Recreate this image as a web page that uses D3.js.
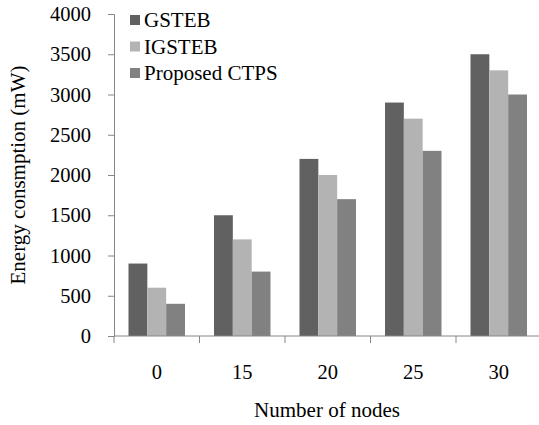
<!DOCTYPE html>
<html><head><meta charset="utf-8">
<script src="https://cdn.jsdelivr.net/npm/d3@7"></script>
<style>body{margin:0;background:#fff}svg{display:block}text{font-family:"Liberation Serif","Times New Roman",serif;fill:#000}</style>
</head><body>
<svg id="c" width="539" height="425"></svg>
<script>
const categories = ["0","15","20","25","30"];
const seriesNames = ["GSTEB","IGSTEB","Proposed CTPS"];
const gsteb = [900,1500,2200,2900,3500];
const igsteb = [600,1200,2000,2700,3300];
const ctps = [400,800,1700,2300,3000];
const yTicks = [0,500,1000,1500,2000,2500,3000,3500,4000];
const colors = ["#616161","#b3b3b3","#818181"];
const seriesVals = [gsteb, igsteb, ctps];

const svg = d3.select("#c");
const x0 = 114, bw = 85.5;
const x = d3.scaleBand().domain(categories).range([x0, x0 + bw*categories.length]).padding(0);
const y = d3.scaleLinear().domain([0,4000]).range([336,14]);
const grpPad = 14.5;
const xs = d3.scaleBand().domain(seriesNames).range([grpPad, x.bandwidth()-grpPad]).padding(0);

// bars
categories.forEach((c,i)=>{
  seriesNames.forEach((s,j)=>{
    svg.append("rect")
      .attr("x", x(c)+xs(s))
      .attr("y", y(seriesVals[j][i]))
      .attr("width", xs.bandwidth())
      .attr("height", y(0)-y(seriesVals[j][i]))
      .attr("fill", colors[j]);
  });
});

// y axis
const yAxis = svg.append("g").attr("transform",`translate(${x0},0)`)
  .call(d3.axisLeft(y).tickValues(yTicks).tickSize(6).tickPadding(17).tickFormat(d3.format("d")));
yAxis.selectAll("line,path").attr("stroke","#868686");
yAxis.selectAll("text").style("font-size","20.5px").attr("fill","#000");

// x axis
const xAxis = svg.append("g").attr("transform",`translate(0,${y(0)})`)
  .call(d3.axisBottom(x).tickSize(0).tickPadding(28));
xAxis.select("path").attr("stroke","#868686").attr("d",`M${x0},0H${x0+bw*5}`);
xAxis.selectAll("text").style("font-size","20.5px").attr("fill","#000");
const bounds = categories.map((c)=>x(c)).concat([x0+bw*5]);
svg.append("g").selectAll("line").data(bounds).join("line")
  .attr("x1",d=>d).attr("x2",d=>d).attr("y1",y(0)).attr("y2",y(0)+7).attr("stroke","#868686");

// axis titles
svg.append("text").attr("x",327).attr("y",417).attr("text-anchor","middle").style("font-size","21px").text("Number of nodes");
svg.append("text").attr("transform","translate(25,175) rotate(-90)").attr("text-anchor","middle").style("font-size","21px").text("Energy consmption (mW)");

// legend
const lg = svg.append("g");
seriesNames.forEach((s,j)=>{
  const cy = 20 + j*26.5;
  lg.append("rect").attr("x",130).attr("y",cy-5).attr("width",10).attr("height",10).attr("fill",colors[j]);
  lg.append("text").attr("x",144).attr("y",cy+7).style("font-size","21px").text(s);
});
</script>
</body></html>
